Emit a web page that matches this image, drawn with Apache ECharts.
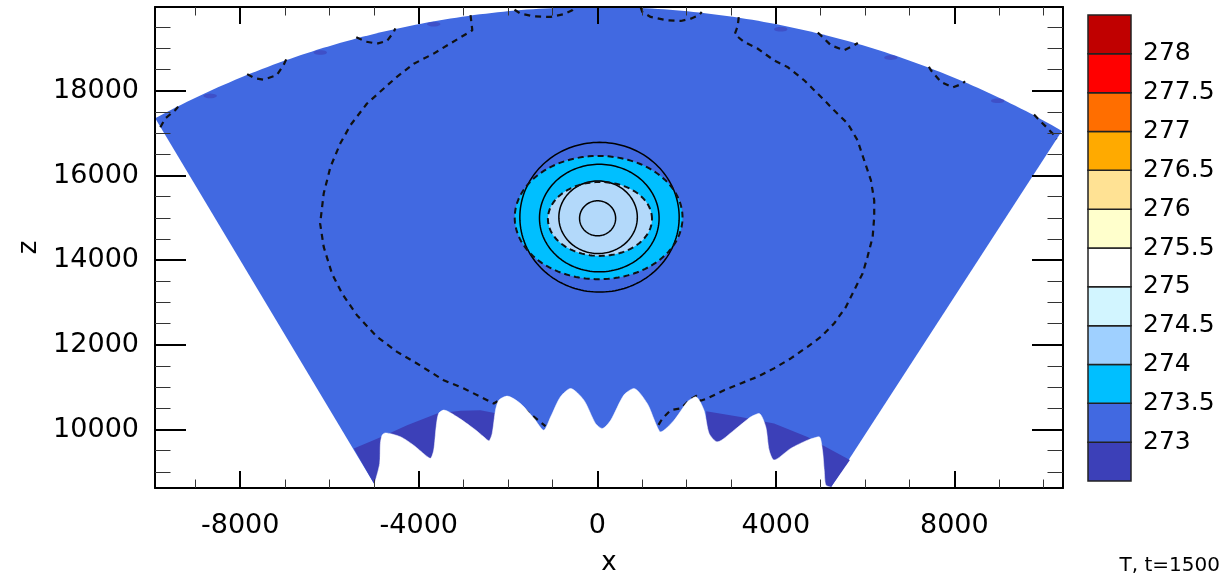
<!DOCTYPE html>
<html>
<head>
<meta charset="utf-8">
<script src="https://cdn.jsdelivr.net/npm/echarts@6/dist/echarts.min.js"></script>
<style>
  html, body { margin: 0; padding: 0; background: #ffffff; }
  #chart { width: 1227px; height: 577px; }
</style>
</head>
<body>
<div id="chart"></div>
<script>
// ---- axes (metres) ----
const xRange = [-9910, 10435];
const zRange = [8620, 19980];
const xMajorTicks = [-8000, -4000, 0, 4000, 8000];
const xMinorTicks = [-9000, -7000, -6000, -5000, -3000, -2000, -1000, 1000, 2000, 3000, 5000, 6000, 7000, 9000, 10000];
const zMajorTicks = [10000, 12000, 14000, 16000, 18000];
const zMinorTicks = [9000, 9500, 10500, 11000, 11500, 12500, 13000, 13500, 14500, 15000, 15500,
                     16500, 17000, 17500, 18500, 19000, 19500];

// ---- domain: annular sector, outer radius and side angles (degrees from vertical) ----
const outerRadius = 19980;
const sideAngles = [-29.72, 31.4];

// ---- lower boundary (terrain) [x, z], left to right ----
const terrain = [
  [-4995, 8710], [-4875, 9200], [-4860, 9670], [-4820, 9870], [-4750, 9920], [-4410, 9830],
  [-4115, 9630], [-3850, 9395], [-3740, 9320], [-3665, 9515], [-3610, 10065], [-3555, 10380],
  [-3440, 10460], [-3140, 10300], [-2770, 10025], [-2545, 9830], [-2430, 9735], [-2355, 9910],
  [-2280, 10460], [-2205, 10695], [-2020, 10790], [-1720, 10615], [-1420, 10265], [-1200, 9985],
  [-1045, 10300], [-825, 10775], [-600, 10970], [-300, 10695], [-40, 10145], [110, 10025],
  [300, 10220], [595, 10815], [820, 10970], [1120, 10615], [1310, 10145], [1420, 9945],
  [1720, 10220], [2020, 10655], [2205, 10775], [2390, 10460], [2505, 9910], [2690, 9710],
  [3065, 9985], [3440, 10300], [3625, 10380], [3775, 10065], [3850, 9515], [3960, 9280],
  [4335, 9555], [4710, 9750], [4970, 9830], [5045, 9515], [5085, 9040], [5120, 8690], [5235, 8640]
];

// ---- cold pools (T < 273 K) next to the ground ----
const coldLeft = [
  [-5455, 9550], [-4790, 9850], [-4262, 10100], [-3589, 10380], [-3066, 10445], [-2618, 10456],
  [-2243, 10380], [-2250, 8700], [-4995, 8710]
];
const coldRight = [
  [2440, 8700], [2440, 10430], [3214, 10298], [3962, 10144], [4711, 9825], [5660, 9280], [5235, 8640]
];
// small cold cells just under the upper boundary [x, z]
const coldSpecks = [[-8674, 17880], [-6206, 18905], [-3665, 19575], [4111, 19455], [6578, 18785], [8972, 17765]];

// ---- warm bubble, ellipses [cx, cz, rx, rz] ----
const bubble2735 = [30, 15007, 1880, 1456];
const bubble274 = [60, 14975, 1166, 873];
const solidRings = [
  [50, 15015, 1785, 1768],
  [45, 14995, 1340, 1270],
  [18, 15015, 879, 857],
  [7, 14990, 404, 413]
];
const dashedRings = [bubble2735, bubble274];

// ---- dashed contour pieces [x, z] ----
const bigLeft = [
  [-2840, 19790], [-2800, 19430], [-3290, 19120], [-3665, 18880], [-4110, 18640], [-4490, 18330],
  [-4790, 18050], [-5160, 17700], [-5530, 17190], [-5760, 16755], [-5980, 16200], [-6130, 15575],
  [-6210, 14865], [-6130, 14315], [-5945, 13685], [-5720, 13215], [-5385, 12700], [-4935, 12190],
  [-4485, 11835], [-4040, 11560], [-3440, 11165], [-2990, 10970], [-2545, 10735], [-2320, 10615],
  [-2235, 10670]
];
const bigLeftTail = [[-1630, 10480], [-1495, 10365], [-1270, 10175], [-1160, 10080]];
const bigRight = [
  [3170, 19740], [3145, 19525], [3080, 19335], [3290, 19155], [3590, 19000], [3960, 18720],
  [4260, 18565], [4635, 18250], [4860, 18015], [5085, 17780], [5305, 17540], [5610, 17230],
  [5830, 16835], [5980, 16360], [6130, 15890], [6205, 15415], [6205, 15020], [6170, 14550],
  [6055, 14080], [5945, 13685], [5755, 13290], [5570, 12895], [5305, 12505], [5010, 12190],
  [4710, 11955], [4335, 11680], [3960, 11445], [3590, 11245], [3215, 11090], [2840, 10930],
  [2465, 10735], [2315, 10680], [2225, 10800], [2095, 10720], [1870, 10500], [1645, 10460],
  [1460, 10265], [1345, 10065]
];
const topLoops = [
  [[-9790, 17140], [-9681, 17346], [-9459, 17542], [-9392, 17624]],
  [[-7845, 18395], [-7665, 18295], [-7480, 18265], [-7180, 18370], [-7030, 18605], [-6970, 18745]],
  [[-5400, 19265], [-5175, 19160], [-4935, 19115], [-4710, 19180], [-4560, 19390], [-4525, 19475]],
  [[-1855, 19915], [-1720, 19825], [-1420, 19760], [-1045, 19745], [-750, 19810], [-560, 19905], [-510, 19975]],
  [[970, 19975], [1010, 19860], [1195, 19745], [1570, 19665], [1870, 19650], [2095, 19705], [2280, 19785], [2340, 19860]],
  [[4940, 19375], [5010, 19310], [5235, 19075], [5530, 18960], [5755, 19075], [5838, 19130]],
  [[7430, 18570], [7475, 18485], [7700, 18210], [7965, 18080], [8185, 18170], [8240, 18225]],
  [[9785, 17440], [9870, 17345], [10095, 17110], [10240, 16950], [10290, 16860]]
];
const dashedPieces = [bigLeft, bigLeftTail, bigRight].concat(topLoops);

// ---- colour scale ----
const levels = [273, 273.5, 274, 274.5, 275, 275.5, 276, 276.5, 277, 277.5, 278];
const palette = ['#3c40b8', '#4169e1', '#00bfff', '#9fd0ff', '#d2f5ff', '#ffffff',
                 '#ffffcc', '#ffe294', '#ffaa00', '#ff6e00', '#ff0000', '#c00000'];

const FONT = 'DejaVu Sans';

// ---- geometry helpers (data space) ----
function arcPoints(r, a0, a1, n) {
  const pts = [];
  for (let k = 0; k <= n; k++) {
    const a = (a0 + (a1 - a0) * k / n) * Math.PI / 180;
    pts.push([r * Math.sin(a), r * Math.cos(a)]);
  }
  return pts;
}
function ellipsePoints(e, n) {
  const pts = [];
  for (let k = 0; k < n; k++) {
    const a = 2 * Math.PI * k / n;
    pts.push([e[0] + e[2] * Math.cos(a), e[1] + e[3] * Math.sin(a)]);
  }
  return pts;
}
const domainOutline = arcPoints(outerRadius, sideAngles[0], sideAngles[1], 160)
  .concat([terrain[terrain.length - 1], terrain[0]]);

function shapeSeries(name, shapes, kind, style, z) {
  return {
    type: 'custom', name, coordinateSystem: 'cartesian2d', xAxisIndex: 0, yAxisIndex: 0,
    z, silent: true, clip: true, animation: false,
    data: shapes.map((s, i) => [i]),
    renderItem: (params, api) => ({
      type: kind,
      shape: { points: shapes[params.dataIndex].map(p => api.coord(p)) },
      style: style
    })
  };
}

function tickAxis(dim, position, values, length, width, withLine, withLabels) {
  const isX = dim === 'x';
  return {
    type: 'value', gridIndex: 0, position, z: 10, silent: true,
    min: isX ? xRange[0] : zRange[0],
    max: isX ? xRange[1] : zRange[1],
    splitLine: { show: false },
    axisLine: { show: withLine, onZero: false, lineStyle: { color: '#000', width: 2 } },
    axisTick: { show: true, inside: true, length, customValues: values,
                lineStyle: { color: width > 1.5 ? '#000' : '#333', width } },
    axisLabel: withLabels
      ? { show: true, customValues: values, color: '#000', fontFamily: FONT, fontSize: 27,
          margin: isX ? 24 : 16, formatter: v => String(v) }
      : { show: false }
  };
}

const xMain = Object.assign(tickAxis('x', 'bottom', xMajorTicks, 17, 2, true, true), {
  name: 'x', nameLocation: 'middle', nameGap: 62,
  nameTextStyle: { color: '#000', fontFamily: FONT, fontSize: 26 }
});
const zMain = Object.assign(tickAxis('y', 'left', zMajorTicks, 31, 2, true, true), {
  name: 'z', nameLocation: 'middle', nameGap: 113, nameRotate: 90,
  nameTextStyle: { color: '#000', fontFamily: FONT, fontSize: 26 }
});

const option = {
  animation: false,
  backgroundColor: '#ffffff',
  grid: [
    { left: 155, top: 7, width: 908, height: 481, outerBoundsMode: 'none', containLabel: false },
    { left: 1088, top: 15, width: 43, height: 466, outerBoundsMode: 'none', containLabel: false }
  ],
  xAxis: [
    xMain,
    tickAxis('x', 'bottom', xMinorTicks, 8.5, 1, false, false),
    tickAxis('x', 'top', xMajorTicks, 17, 2, true, false),
    tickAxis('x', 'top', xMinorTicks, 8.5, 1, false, false),
    { type: 'value', gridIndex: 1, min: 0, max: 1, show: false }
  ],
  yAxis: [
    zMain,
    tickAxis('y', 'left', zMinorTicks, 15.5, 1, false, false),
    tickAxis('y', 'right', zMajorTicks, 31, 2, true, false),
    tickAxis('y', 'right', zMinorTicks, 15.5, 1, false, false),
    {
      type: 'value', gridIndex: 1, position: 'right', min: levels[0] - 0.5, max: levels[levels.length - 1] + 0.5,
      interval: 0.5, splitLine: { show: false }, axisLine: { show: false }, axisTick: { show: false },
      axisLabel: {
        show: true, margin: 12, color: '#000', fontFamily: FONT, fontSize: 25,
        formatter: v => (levels.indexOf(v) >= 0 ? String(v) : '')
      }
    }
  ],
  graphic: [
    { type: 'text', right: 7, bottom: 1, silent: true,
      style: { text: 'T, t=1500', fill: '#000', font: '20px "DejaVu Sans"' } }
  ],
  series: [
    // fluid domain, 273–273.5 K
    shapeSeries('domain', [domainOutline], 'polygon', { fill: palette[1] }, 1),
    // cold pools below 273 K
    shapeSeries('cold', [coldLeft, coldRight], 'polygon', { fill: palette[0] }, 2),
    shapeSeries('cold specks', coldSpecks.map(c => ellipsePoints([c[0], c[1], 150, 55], 24)), 'polygon',
      { fill: palette[0], opacity: 0.6 }, 2),
    // warm bubble bands
    shapeSeries('bubble 273.5', [ellipsePoints(bubble2735, 160)], 'polygon', { fill: palette[2] }, 3),
    shapeSeries('bubble 274', [ellipsePoints(bubble274, 160)], 'polygon', { fill: '#b3d9fa' }, 3),
    // contour lines
    shapeSeries('solid rings', solidRings.map(e => ellipsePoints(e, 160)), 'polygon',
      { fill: null, stroke: '#000', lineWidth: 1.5 }, 4),
    shapeSeries('dashed rings', dashedRings.map(e => ellipsePoints(e, 160)), 'polygon',
      { fill: null, stroke: '#111', lineWidth: 2, lineDash: [6, 4] }, 4)
  ].concat(dashedPieces.map((piece, i) => ({
    type: 'line', name: 'dashed ' + i, xAxisIndex: 0, yAxisIndex: 0, data: piece,
    symbol: 'none', silent: true, z: 4, animation: false,
    lineStyle: { color: '#111', width: 2.2, type: [6, 5] }
  }))).concat([
    // ground below the terrain
    {
      type: 'line', name: 'terrain', xAxisIndex: 0, yAxisIndex: 0, data: terrain,
      symbol: 'none', smooth: 0.25, silent: true, z: 6, animation: false,
      lineStyle: { color: '#ffffff', width: 0.5 },
      areaStyle: { color: '#ffffff', opacity: 1, origin: 'start' }
    },
    // colour bar
    {
      type: 'custom', name: 'colorbar', coordinateSystem: 'cartesian2d', xAxisIndex: 4, yAxisIndex: 4,
      silent: true, animation: false, z: 3,
      data: palette.map((c, i) => [i]),
      renderItem: (params, api) => {
        const i = params.dataIndex;
        const lo = i === 0 ? levels[0] - 0.5 : levels[i - 1];
        const hi = i === levels.length ? levels[levels.length - 1] + 0.5 : levels[i];
        const p0 = api.coord([0, hi]);
        const p1 = api.coord([1, lo]);
        return {
          type: 'rect',
          shape: { x: p0[0], y: p0[1], width: p1[0] - p0[0], height: p1[1] - p0[1] },
          style: { fill: palette[i], stroke: '#222', lineWidth: 1.5 }
        };
      }
    }
  ])
};

const chart = echarts.init(document.getElementById('chart'));
chart.setOption(option);
</script>
</body>
</html>
